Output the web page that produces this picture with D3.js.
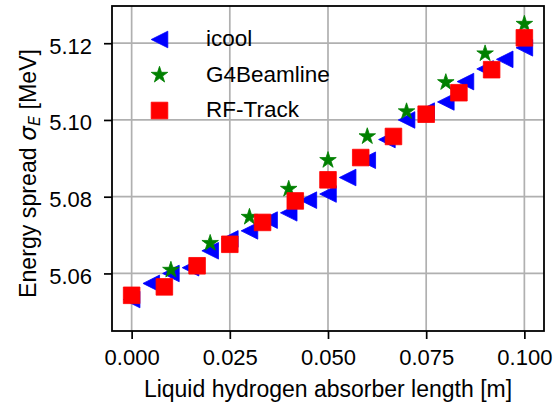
<!DOCTYPE html>
<html>
<head>
<meta charset="utf-8">
<script src="https://cdn.jsdelivr.net/npm/d3@7"></script>
<style>
  html, body { margin: 0; padding: 0; background: #fff; }
  svg { display: block; }
  text { font-family: "Liberation Sans", Arial, sans-serif; fill: #000; }
</style>
</head>
<body>
<svg id="chart" width="555" height="403"></svg>
<script>
// Energy spread versus absorber length for three tracking codes
const icoolX = [0.000, 0.005, 0.010, 0.015, 0.020, 0.025, 0.030, 0.035, 0.040, 0.045, 0.050,
                0.055, 0.060, 0.065, 0.070, 0.075, 0.080, 0.085, 0.090, 0.095, 0.100];
const icoolY = [5.0532, 5.0574, 5.0600, 5.0615, 5.0659, 5.0690, 5.0711, 5.0739, 5.0758, 5.0791, 5.0807,
                5.0850, 5.0895, 5.0949, 5.1000, 5.1023, 5.1047, 5.1100, 5.1133, 5.1158, 5.1188];

const g4X = [0.010, 0.020, 0.030, 0.040, 0.050, 0.060, 0.070, 0.080, 0.090, 0.100];
const g4Y = [5.0609, 5.0679, 5.0747, 5.0820, 5.0895, 5.0957, 5.1022, 5.1098, 5.1173, 5.1250];

const rfX = [0.0, 0.1/12, 0.2/12, 0.3/12, 0.4/12, 0.5/12, 0.6/12, 0.7/12, 0.8/12, 0.9/12, 1.0/12, 1.1/12, 0.1];
const rfY = [5.0543, 5.0565, 5.0620, 5.0676, 5.0733, 5.0789, 5.0844, 5.0902, 5.0957, 5.1015, 5.1071, 5.1131, 5.1214];

const xTicks = [0.000, 0.025, 0.050, 0.075, 0.100];
const yTicks = [5.06, 5.08, 5.10, 5.12];
const seriesNames = ["icool", "G4Beamline", "RF-Track"];

const svg = d3.select("#chart");
const L = 112, R = 544, T = 6, B = 331;

const x = d3.scaleLinear().domain([-0.005, 0.105]).range([L, R]);
const y = d3.scaleLinear().domain([5.045, 5.1297]).range([B, T]);

// marker shapes
function triLeft(h) { return `M${-h},0L${h},${-h}L${h},${h}Z`; }
function square(s) { const h = s / 2; return `M${-h},${-h}H${h}V${h}H${-h}Z`; }
function star(r) {
  const ri = r * 0.381966;
  let p = "";
  for (let i = 0; i < 10; i++) {
    const a = -Math.PI / 2 + i * Math.PI / 5;
    const rr = i % 2 === 0 ? r : ri;
    p += (i === 0 ? "M" : "L") + (rr * Math.cos(a)).toFixed(2) + "," + (rr * Math.sin(a)).toFixed(2);
  }
  return p + "Z";
}

const styles = [
  { color: "#0000ff", path: triLeft(8.3) },
  { color: "#008000", path: star(8.7) },
  { color: "#ff0000", path: square(16.6) }
];

// grid
const grid = svg.append("g").attr("stroke", "#b0b0b0").attr("stroke-width", 1.7);
grid.selectAll("line.gx").data(xTicks).join("line")
  .attr("x1", d => x(d)).attr("x2", d => x(d)).attr("y1", T).attr("y2", B);
grid.selectAll("line.gy").data(yTicks).join("line")
  .attr("y1", d => y(d)).attr("y2", d => y(d)).attr("x1", L).attr("x2", R);

// data markers
const series = [
  { xs: icoolX, ys: icoolY },
  { xs: g4X, ys: g4Y },
  { xs: rfX, ys: rfY }
];
series.forEach((s, i) => {
  const pts = s.xs.map((v, k) => [v, s.ys[k]]);
  svg.append("g").selectAll("path").data(pts).join("path")
    .attr("d", styles[i].path)
    .attr("transform", d => `translate(${x(d[0])},${y(d[1])})`)
    .attr("fill", styles[i].color)
    .attr("stroke", styles[i].color)
    .attr("stroke-width", 0.8)
    .attr("stroke-linejoin", "miter");
});

// axes
const xAxis = d3.axisBottom(x).tickValues(xTicks).tickFormat(d3.format(".3f"))
  .tickSizeInner(8).tickSizeOuter(0).tickPadding(10);
const yAxis = d3.axisLeft(y).tickValues(yTicks).tickFormat(d3.format(".2f"))
  .tickSizeInner(8).tickSizeOuter(0).tickPadding(12);

const gx = svg.append("g").attr("transform", `translate(0,${B})`).call(xAxis);
const gy = svg.append("g").attr("transform", `translate(${L},0)`).call(yAxis);
[gx, gy].forEach(g => {
  g.select(".domain").remove();
  g.selectAll(".tick line").attr("stroke", "#000").attr("stroke-width", 1.7);
  g.selectAll(".tick text").attr("font-size", 22).attr("font-family", "Liberation Sans, Arial, sans-serif").attr("fill", "#000");
});
gy.selectAll(".tick text").attr("dy", "0.45em");

// frame
svg.append("rect").attr("x", L).attr("y", T).attr("width", R - L).attr("height", B - T)
  .attr("fill", "none").attr("stroke", "#000").attr("stroke-width", 1.8);

// axis titles
svg.append("text").attr("x", (L + R) / 2).attr("y", 397).attr("text-anchor", "middle")
  .attr("font-size", 23).text("Liquid hydrogen absorber length [m]");

const yl = svg.append("text").attr("transform", `translate(36,173.5) rotate(-90)`)
  .attr("text-anchor", "middle").attr("font-size", 23.2);
yl.append("tspan").text("Energy spread ");
yl.append("tspan").attr("font-family", "DejaVu Sans").attr("font-style", "italic").text("σ");
yl.append("tspan").attr("font-family", "DejaVu Sans").attr("font-style", "italic")
  .attr("font-size", 16).attr("dy", 4).text("E");
yl.append("tspan").attr("dy", -4).text(" [MeV]");

// legend
const lg = svg.append("g");
seriesNames.forEach((name, i) => {
  const cy = 39.5 + i * 35.5;
  lg.append("path").attr("d", styles[i].path)
    .attr("transform", `translate(159.5,${cy})`)
    .attr("fill", styles[i].color).attr("stroke", styles[i].color).attr("stroke-width", 0.8);
  lg.append("text").attr("x", 206).attr("y", cy + 6.5).attr("font-size", 22.5).text(name);
});
</script>
</body>
</html>
